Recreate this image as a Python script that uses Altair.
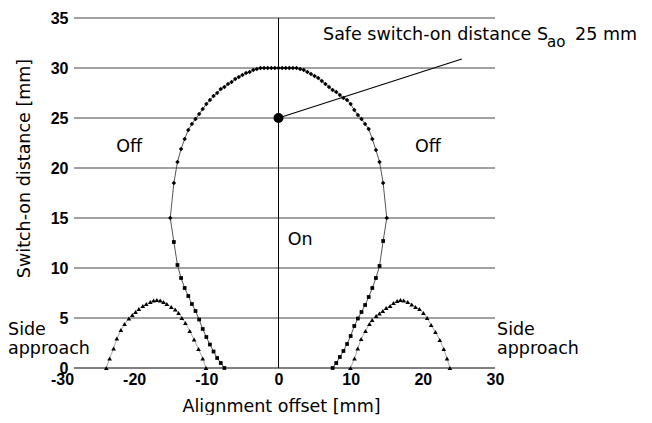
import altair as alt
import pandas as pd

# ---------------- data ----------------
x_ticks = [-30, -20, -10, 0, 10, 20, 30]
y_ticks = [0, 5, 10, 15, 20, 25, 30, 35]
grid_y = [5, 10, 15, 20, 25, 30, 35]
base_y = [0]
center_x = [0]

# upper part of the switch-on curve (diamonds)
upper_x = [-15.0, -14.5, -14.0, -13.5, -13.0, -12.5, -12.0, -11.5, -11.0, -10.5,
           -10.0, -9.5, -9.0, -8.5, -8.0, -7.5, -7.0, -6.5, -6.0, -5.5,
           -5.0, -4.5, -4.0, -3.5, -3.0, -2.5, -2.0, -1.5, -1.0, -0.5,
           0.0,
           0.5, 1.0, 1.5, 2.0, 2.5, 3.0, 3.5, 4.0, 4.5, 5.0,
           5.5, 6.0, 6.5, 7.0, 7.5, 8.0, 8.5, 9.0, 9.5, 10.0,
           10.5, 11.0, 11.5, 12.0, 12.5, 13.0, 13.5, 14.0, 14.5, 15.0]
upper_y = [15.0, 18.5, 20.6, 21.9, 22.9, 23.8, 24.4, 24.9, 25.4, 25.9,
           26.4, 26.8, 27.2, 27.5, 27.9, 28.1, 28.4, 28.6, 28.9, 29.1,
           29.3, 29.5, 29.6, 29.8, 29.9, 30.0, 30.0, 30.0, 30.0, 30.0,
           30.0,
           30.0, 30.0, 30.0, 30.0, 30.0, 29.9, 29.8, 29.6, 29.4, 29.2,
           29.0, 28.7, 28.4, 28.1, 27.8, 27.6, 27.3, 27.0, 26.8, 26.4,
           25.8, 25.3, 24.9, 24.4, 23.9, 22.9, 21.8, 20.6, 18.5, 15.0]

# lower parts of the switch-on curve (squares)
lower_left_x = [-7.5, -8.0, -8.5, -9.0, -9.5, -10.0, -10.5, -11.0, -11.5, -12.0,
                -12.5, -13.0, -13.5, -14.0, -14.5]
lower_left_y = [0.0, 0.5, 1.0, 1.65, 2.35, 3.1, 3.9, 4.85, 5.7, 6.4,
                7.2, 8.0, 9.0, 10.3, 12.6]
lower_right_x = [14.5, 14.0, 13.5, 13.0, 12.5, 12.0, 11.5, 11.0, 10.5, 10.0,
                 9.5, 9.0, 8.5, 8.0, 7.5]
lower_right_y = [12.7, 10.2, 9.0, 8.0, 7.1, 6.3, 5.6, 4.95, 4.2, 3.2,
                 2.4, 1.7, 1.1, 0.5, 0.0]

# side approach lobes (triangles)
lobe_left_x = [-23.86, -23.4, -22.85, -22.4, -21.84, -21.33, -20.73, -20.26, -19.8, -19.35,
               -18.8, -18.32, -17.77, -17.31, -16.86, -16.39, -15.93, -15.47, -14.86, -14.31,
               -13.85, -13.39, -12.9, -12.3, -11.7, -11.08, -10.5, -10.04]
lobe_left_y = [0.0, 0.95, 1.95, 2.95, 3.8, 4.4, 4.95, 5.3, 5.6, 5.9,
               6.2, 6.4, 6.6, 6.75, 6.8, 6.75, 6.6, 6.4, 6.1, 5.85,
               5.5, 5.0, 4.5, 3.7, 2.85, 1.9, 0.95, 0.0]
lobe_right_x = [9.97, 10.53, 10.98, 11.45, 12.05, 12.6, 12.98, 13.53, 13.99, 14.45,
                14.92, 15.47, 15.93, 16.44, 16.9, 17.35, 17.91, 18.46, 18.98, 19.53,
                20.08, 20.6, 21.15, 21.75, 22.35, 22.9, 23.35, 23.75]
lobe_right_y = [0.0, 0.95, 1.95, 2.9, 3.7, 4.4, 4.8, 5.2, 5.45, 5.7,
                6.0, 6.2, 6.5, 6.7, 6.8, 6.75, 6.6, 6.35, 6.1, 5.9,
                5.5, 5.0, 4.3, 3.6, 2.8, 1.9, 0.95, 0.0]

# safe switch-on distance point and leader
sao_x = [0]
sao_y = [25]
leader_x = [0, 25.4]
leader_y = [25, 30.9]

# region labels
region_text = ["Off", "Off", "On"]
region_x = [-20.7, 20.7, 3.0]
region_y = [22.1, 22.1, 12.8]

side_text = ["Side", "approach", "Side", "approach"]
side_x = [-37.48, -37.48, 30.28, 30.28]
side_y = [3.3, 1.4, 3.3, 1.4]

note_text = ["Safe switch-on distance S", "25 mm"]
note_x = [6.17, 41.1]
note_y = [32.8, 32.8]
sub_text = ["ao"]
sub_x = [37.2]
sub_y = [32.07]

# ---------------- frames ----------------
main_rows = []
k = 0
for x, y in zip(lower_left_x, lower_left_y):
    main_rows.append({"x": x, "y": y, "i": k}); k += 1
for x, y in zip(upper_x, upper_y):
    main_rows.append({"x": x, "y": y, "i": k}); k += 1
for x, y in zip(lower_right_x, lower_right_y):
    main_rows.append({"x": x, "y": y, "i": k}); k += 1
main_df = pd.DataFrame(main_rows)
upper_df = pd.DataFrame({"x": upper_x, "y": upper_y})
lower_df = pd.DataFrame({"x": lower_left_x + lower_right_x,
                         "y": lower_left_y + lower_right_y})

lobe_rows = []
for name, xs, ys in [("L", lobe_left_x, lobe_left_y), ("R", lobe_right_x, lobe_right_y)]:
    for j, (x, y) in enumerate(zip(xs, ys)):
        lobe_rows.append({"x": x, "y": y, "i": j, "lobe": name})
lobe_df = pd.DataFrame(lobe_rows)

FONT = "DejaVu Sans"
TICKFONT = "Liberation Sans"
TFS = 16
FS = 17.5

xscale = alt.Scale(domain=[-30, 30], nice=False, zero=False)
yscale = alt.Scale(domain=[0, 35], nice=False, zero=False)

xaxis = alt.Axis(values=x_ticks, title="Alignment offset [mm]", grid=False, domain=False,
                 ticks=False, labelFlush=False, labelPadding=3,
                 labelExpr="'' + datum.value",
                 labelFont=TICKFONT, labelFontWeight="bold", labelFontSize=TFS, labelColor="black",
                 titleFont=FONT, titleFontWeight="normal", titleFontSize=FS, titleColor="black",
                 titleX=219, titleY=43, titleBaseline="alphabetic", titleAlign="center")
yaxis = alt.Axis(values=y_ticks, title="Switch-on distance [mm]", grid=False, domain=False,
                 ticks=False, labelFlush=False, labelPadding=-6,
                 labelFont=TICKFONT, labelFontWeight="bold", labelFontSize=TFS, labelColor="black",
                 titleFont=FONT, titleFontWeight="normal", titleFontSize=FS, titleColor="black",
                 titleX=-38, titleY=150, titleBaseline="middle", titleAlign="center")


def X(f="x"):
    return alt.X(f + ":Q", scale=xscale, axis=xaxis, title="Alignment offset [mm]")


def Y(f="y"):
    return alt.Y(f + ":Q", scale=yscale, axis=yaxis, title="Switch-on distance [mm]")


main_line = alt.Chart(main_df).mark_line(color="#555", strokeWidth=1).encode(
    x=X(), y=Y(), order="i:Q")
grid = alt.Chart(pd.DataFrame({"v": grid_y})).mark_rule(color="#444", strokeWidth=1).encode(
    y=Y("v"), x=alt.value(12), x2=alt.value(433))
base = alt.Chart(pd.DataFrame({"v": base_y})).mark_rule(color="black", strokeWidth=1).encode(
    y=Y("v"), x=alt.value(12), x2=alt.value(433))
vline = alt.Chart(pd.DataFrame({"v": center_x})).mark_rule(color="black", strokeWidth=1).encode(
    x=X("v"))

upper_pts = alt.Chart(upper_df).mark_point(shape="diamond", filled=True, size=20,
                                           color="black", opacity=1).encode(x=X(), y=Y())
lower_pts = alt.Chart(lower_df).mark_point(shape="square", filled=True, size=14,
                                           color="black", opacity=1).encode(x=X(), y=Y())

lobe_line = alt.Chart(lobe_df).mark_line(color="#aaa", strokeWidth=1).encode(
    x=X(), y=Y(), detail="lobe:N", order="i:Q")
lobe_pts = alt.Chart(lobe_df).mark_point(shape="triangle-up", filled=True, size=22,
                                         color="black", opacity=1).encode(x=X(), y=Y())

dot = alt.Chart(pd.DataFrame({"x": sao_x, "y": sao_y})).mark_circle(
    size=100, color="black", opacity=1).encode(x=X(), y=Y())
leader = alt.Chart(pd.DataFrame({"x": leader_x, "y": leader_y})).mark_line(
    color="black", strokeWidth=1.1).encode(x=X(), y=Y())

region = alt.Chart(pd.DataFrame({"x": region_x, "y": region_y, "t": region_text})).mark_text(
    font=FONT, fontSize=FS, color="black", align="center", baseline="middle").encode(
    x=X(), y=Y(), text="t:N")
side = alt.Chart(pd.DataFrame({"x": side_x, "y": side_y, "t": side_text})).mark_text(
    font=FONT, fontSize=FS, color="black", align="left", baseline="alphabetic").encode(
    x=X(), y=Y(), text="t:N")
note = alt.Chart(pd.DataFrame({"x": note_x, "y": note_y, "t": note_text})).mark_text(
    font=FONT, fontSize=FS, color="black", align="left", baseline="alphabetic").encode(
    x=X(), y=Y(), text="t:N")
sub = alt.Chart(pd.DataFrame({"x": sub_x, "y": sub_y, "t": sub_text})).mark_text(
    font=FONT, fontSize=15, color="black", align="left", baseline="alphabetic").encode(
    x=X(), y=Y(), text="t:N")

chart = alt.layer(
    main_line, grid, base, vline, upper_pts, lower_pts, lobe_line, lobe_pts,
    leader, dot, region, side, note, sub
).properties(
    width=433, height=350,
    autosize=alt.AutoSizeParams(type="none"),
    padding={"left": 54, "top": 10, "right": 149, "bottom": 47},
    background="white",
).configure_view(stroke=None)

chart.save("out.html", embed_options={"renderer": "svg", "actions": False})
